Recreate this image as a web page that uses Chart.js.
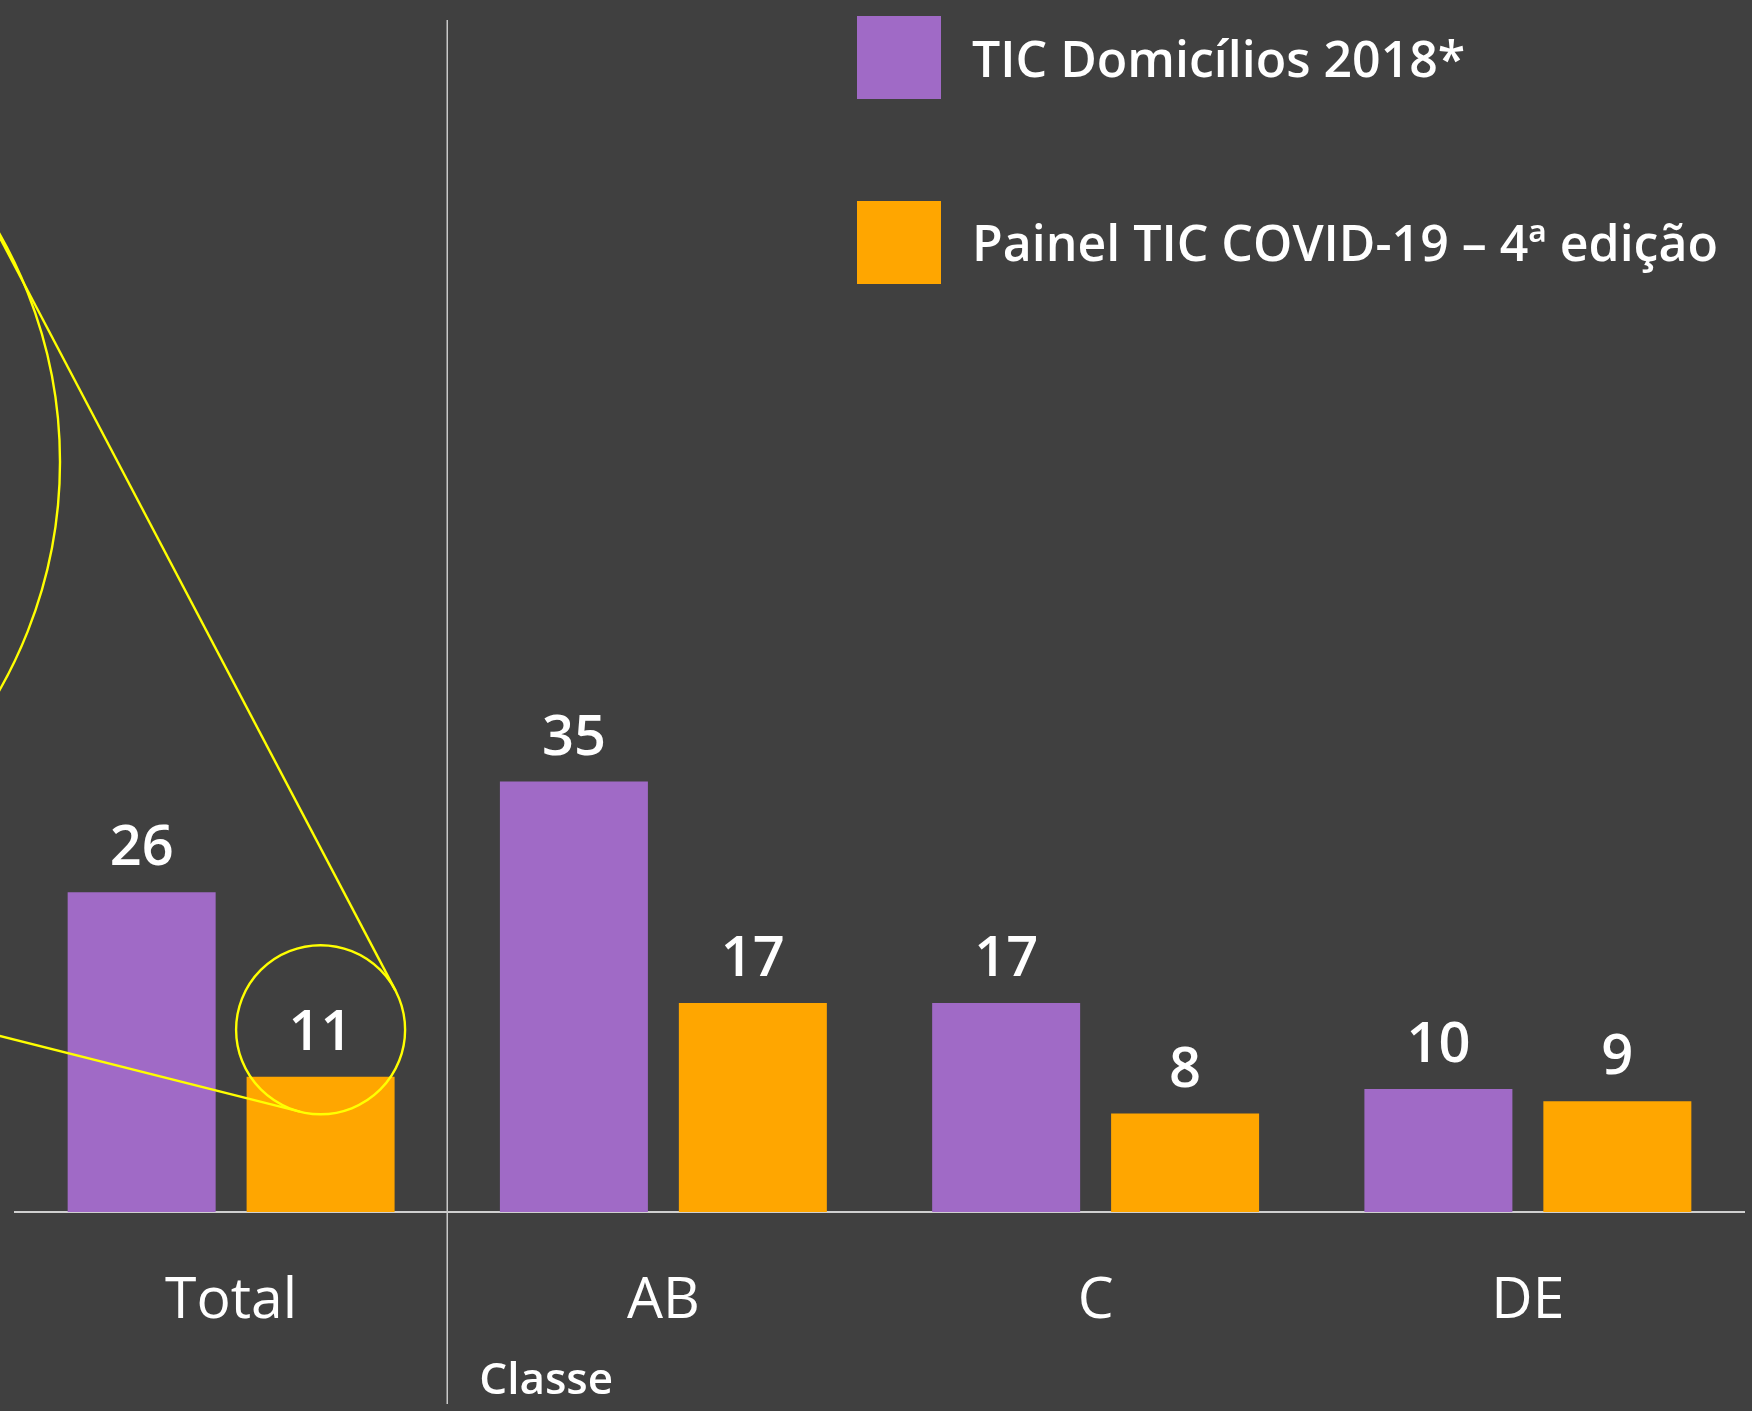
<!DOCTYPE html>
<html>
<head>
<meta charset="utf-8">
<script src="https://cdn.jsdelivr.net/npm/chart.js@4.4.1/dist/chart.umd.min.js"></script>
<style>
  html, body { margin: 0; padding: 0; background: #404040; }
  canvas { display: block; }
</style>
</head>
<body>
<canvas id="chart" width="1752" height="1411" style="width:1752px;height:1411px"></canvas>
<script>
// ---- data ----
const categories = ['Total', 'AB', 'C', 'DE'];
const seriesNames = ['TIC Domicílios 2018*', 'Painel TIC COVID-19 – 4ª edição'];
const domicilios2018 = [26, 35, 17, 10];
const painelCovid4 = [11, 17, 8, 9];
const groupTitle = 'Classe';
const highlightIndex = 0;      // category highlighted by the callout
const highlightDataset = 1;    // series highlighted by the callout

// ---- styles ----
const BG = '#404040';
const COLORS = ['#A06AC6', '#FFA600'];
const LINE_GRAY = '#C8C8C8';
const YELLOW = '#FFFF00';
const FONT = '"Open Sans", "Noto Sans", sans-serif';

const bgPlugin = {
  id: 'bg',
  beforeDraw(chart) {
    const ctx = chart.ctx;
    ctx.save();
    ctx.fillStyle = BG;
    ctx.fillRect(0, 0, chart.width, chart.height);
    ctx.restore();
  }
};

const separatorPlugin = {
  id: 'separator',
  afterDraw(chart) {
    const ctx = chart.ctx;
    const xs = chart.scales.x;
    const xSep = (xs.getPixelForValue(0) + xs.getPixelForValue(1)) / 2;
    ctx.save();
    ctx.strokeStyle = LINE_GRAY;
    ctx.lineWidth = 1.5;
    ctx.beginPath();
    ctx.moveTo(xSep, 20);
    ctx.lineTo(xSep, 1404);
    ctx.stroke();
    ctx.fillStyle = '#FFFFFF';
    ctx.font = '600 44px ' + FONT;
    ctx.textAlign = 'left';
    ctx.textBaseline = 'alphabetic';
    ctx.fillText(groupTitle, xSep + 32, 1394);
    ctx.restore();
  }
};

const valueLabelPlugin = {
  id: 'valueLabels',
  afterDatasetsDraw(chart) {
    const ctx = chart.ctx;
    ctx.save();
    ctx.fillStyle = '#FFFFFF';
    ctx.font = '600 56px ' + FONT;
    ctx.textAlign = 'center';
    ctx.textBaseline = 'alphabetic';
    chart.data.datasets.forEach((ds, di) => {
      const meta = chart.getDatasetMeta(di);
      meta.data.forEach((bar, i) => {
        ctx.fillText(String(ds.data[i]), bar.x, bar.y - 27);
      });
    });
    ctx.restore();
  }
};

// tangent point on circle c as seen from external point a (side: +1 / -1)
function tangentPoint(a, c, side) {
  const vx = a.x - c.x, vy = a.y - c.y;
  const D = Math.hypot(vx, vy);
  const alpha = Math.acos(c.r / D);
  const ang = Math.atan2(vy, vx) + side * alpha;
  return { x: c.x + c.r * Math.cos(ang), y: c.y + c.r * Math.sin(ang) };
}

const calloutPlugin = {
  id: 'callout',
  afterDatasetsDraw(chart) {
    const ctx = chart.ctx;
    const bar = chart.getDatasetMeta(highlightDataset).data[highlightIndex];
    const small = { x: bar.x, y: bar.y - 47, r: 84.5 };
    const big = { x: chart.chartArea.left - 415, y: 462, r: 460 };
    // leader lines: anchored where they cross the canvas' left edge
    const anchors = [{ x: 0, y: 238, side: 1 }, { x: 0, y: 1036, side: -1 }];
    ctx.save();
    ctx.strokeStyle = YELLOW;
    ctx.lineWidth = 2.4;
    anchors.forEach(a => {
      const t = tangentPoint(a, small, a.side);
      const dx = a.x - t.x, dy = a.y - t.y;
      const k = 800 / Math.hypot(dx, dy);
      ctx.beginPath();
      ctx.moveTo(t.x, t.y);
      ctx.lineTo(a.x + dx * k, a.y + dy * k);
      ctx.stroke();
    });
    ctx.beginPath();
    ctx.arc(big.x, big.y, big.r, 0, Math.PI * 2);
    ctx.stroke();
    ctx.beginPath();
    ctx.arc(small.x, small.y, small.r, 0, Math.PI * 2);
    ctx.stroke();
    ctx.restore();
  }
};

const legendPlugin = {
  id: 'customLegend',
  afterDraw(chart) {
    const ctx = chart.ctx;
    const tops = [16, 201];
    const baselines = [77, 261];
    ctx.save();
    ctx.font = '600 50px ' + FONT;
    ctx.textAlign = 'left';
    ctx.textBaseline = 'alphabetic';
    chart.data.datasets.forEach((ds, i) => {
      ctx.fillStyle = ds.backgroundColor;
      ctx.fillRect(857, tops[i], 84, 83);
      ctx.fillStyle = '#FFFFFF';
      ctx.fillText(ds.label, 972, baselines[i]);
    });
    ctx.restore();
  }
};

function build() {
  new Chart(document.getElementById('chart'), {
    type: 'bar',
    data: {
      labels: categories,
      datasets: [
        { label: seriesNames[0], data: domicilios2018, backgroundColor: COLORS[0],
          barPercentage: 0.827, categoryPercentage: 0.828 },
        { label: seriesNames[1], data: painelCovid4, backgroundColor: COLORS[1],
          barPercentage: 0.827, categoryPercentage: 0.828 }
      ]
    },
    options: {
      responsive: false,
      animation: false,
      devicePixelRatio: 1,
      layout: { padding: { left: 15, right: 8, top: 19, bottom: 0 } },
      plugins: { legend: { display: false }, tooltip: { enabled: false } },
      scales: {
        x: {
          grid: { display: false, drawTicks: false },
          border: { display: true, color: '#D0D0D0', width: 2 },
          ticks: { color: '#FFFFFF', padding: 56, font: { family: FONT, size: 57, weight: '400' } },
          afterFit(scale) { scale.height = 199; }
        },
        y: { display: false, min: 0, max: 97 }
      }
    },
    plugins: [bgPlugin, valueLabelPlugin, calloutPlugin, separatorPlugin, legendPlugin]
  });
}

if (document.fonts && document.fonts.load) {
  Promise.all([
    document.fonts.load('400 57px "Open Sans"'),
    document.fonts.load('600 56px "Open Sans"')
  ]).then(build, build);
} else {
  build();
}
</script>
</body>
</html>
